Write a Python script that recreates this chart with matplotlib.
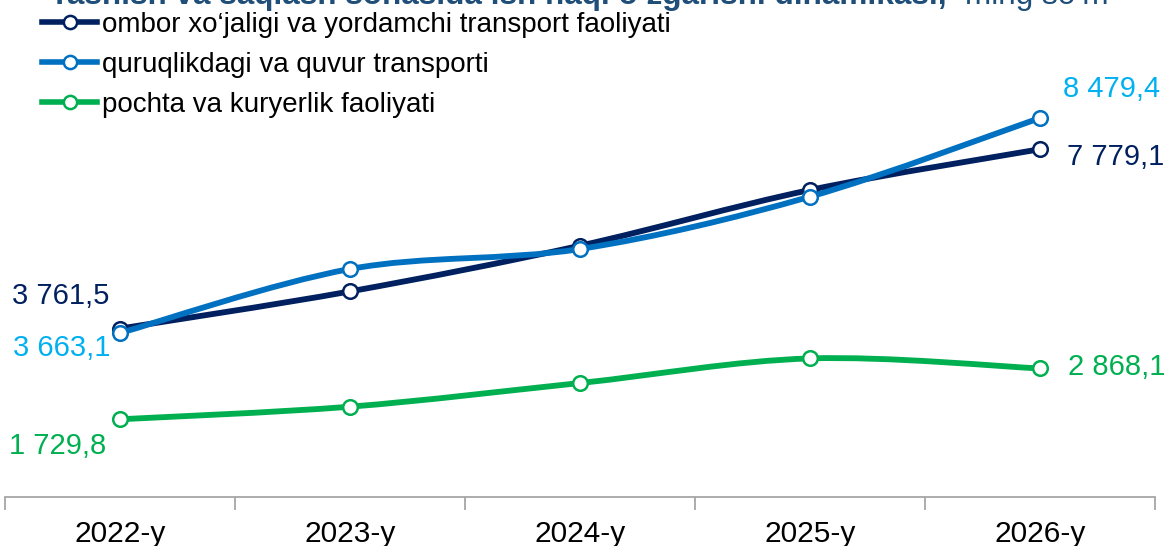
import matplotlib
matplotlib.use("Agg")
import matplotlib.pyplot as plt
from matplotlib.path import Path
from matplotlib.patches import PathPatch
from matplotlib.lines import Line2D
import numpy as np

plt.rcParams['font.family'] = ['Liberation Sans', 'DejaVu Sans']

years = ["2022-y", "2023-y", "2024-y", "2025-y", "2026-y"]
series_names = ["ombor xo\u2018jaligi va yordamchi transport faoliyati",
                "quruqlikdagi va quvur transporti",
                "pochta va kuryerlik faoliyati"]
ombor = [3761.5, 4594, 5618, 6866, 7779.1]
quruq = [3663.1, 5096, 5544, 6716, 8479.4]
pochta = [1729.8, 2012, 2542, 3093, 2868.1]

line_colors = ["#002060", "#0070C0", "#00B050"]
label_colors = ["#002060", "#00B0F0", "#00B050"]
title_bold = "Tashish va saqlash sohasida ish haqi o\u2018zgarishi dinamikasi,"
title_rest = "ming so\u2018m"

W, H = 1165, 546
DPI = 100
fig = plt.figure(figsize=(W / DPI, H / DPI), dpi=DPI)

# axes: x from px 5 to 1155, y from bottom px 496 to top 0
ax = fig.add_axes([5 / W, 1 - 496.5 / H, 1150 / W, 496.5 / H])
ax.set_xlim(-0.5, 4.5)
ax.set_ylim(0, 496.5 * 22.4)


def smooth_path(xs, ys):
    pts = np.column_stack([xs, ys]).astype(float)
    n = len(pts)
    verts = [tuple(pts[0])]
    codes = [Path.MOVETO]
    for i in range(n - 1):
        p0 = pts[i - 1] if i > 0 else pts[i]
        p1 = pts[i]
        p2 = pts[i + 1]
        p3 = pts[i + 2] if i + 2 < n else pts[i + 1]
        c1 = p1 + (p2 - p0) / 6.0
        c2 = p2 - (p3 - p1) / 6.0
        verts += [tuple(c1), tuple(c2), tuple(p2)]
        codes += [Path.CURVE4] * 3
    return Path(verts, codes)


x = np.arange(len(years))
all_series = [ombor, quruq, pochta]
for i, (vals, col) in enumerate(zip(all_series, line_colors)):
    patch = PathPatch(smooth_path(x, vals), fill=False, edgecolor=col,
                      lw=4.2, capstyle='round', joinstyle='round', zorder=2 + i)
    ax.add_patch(patch)
    ax.plot(x, vals, linestyle='none', marker='o', markersize=10.5,
            markerfacecolor='white', markeredgecolor=col, markeredgewidth=1.8,
            zorder=2.5 + i)

# data labels (offsets in pixels)
fs_lbl = 21
def lab(val, xi, dx, dy, color, ha):
    txt = f"{val:,.1f}".replace(",", " ").replace(".", ",")
    ax.annotate(txt, (xi, val), xytext=(dx, dy), textcoords='offset pixels',
                ha=ha, va='center', color=color, fontsize=fs_lbl)

lab(ombor[0], 0, -11, 33, label_colors[0], 'right')
lab(quruq[0], 0, -10, -15, label_colors[1], 'right')
lab(pochta[0], 0, -14, -27, label_colors[2], 'right')
lab(quruq[-1], 4, 23, 29, label_colors[1], 'left')
lab(ombor[-1], 4, 27, -8, label_colors[0], 'left')
lab(pochta[-1], 4, 28, 1, label_colors[2], 'left')

# axes styling
for s in ['top', 'right', 'left']:
    ax.spines[s].set_visible(False)
ax.spines['bottom'].set_color('#A6A6A6')
ax.spines['bottom'].set_linewidth(1.3)
ax.set_yticks([])
ax.set_xticks(x)
ax.set_xticklabels(years, fontsize=21.5)
ax.set_xticks(np.arange(-0.5, 5.0, 1.0), minor=True)
ax.tick_params(axis='x', which='major', length=0, pad=17)
ax.tick_params(axis='x', which='minor', length=9, color='#A6A6A6', width=1.3)

# legend
handles = [Line2D([0], [0], color=c, lw=4.0, marker='o', markersize=9.5,
                  markerfacecolor='white', markeredgecolor=c, markeredgewidth=1.8)
           for c in line_colors]
leg = fig.legend(handles, series_names, loc='upper left',
                 bbox_to_anchor=(42 / W, 1 - 12 / H), frameon=False,
                 fontsize=20, handlelength=1.98, handletextpad=0.18,
                 labelspacing=0.5, borderpad=0, borderaxespad=0)

# cut-off title
fig.text(50 / W, 1 - 4 / H, title_bold, fontsize=22.7, fontweight='bold',
         color='#1F4E79', ha='left', va='baseline')
fig.text(965 / W, 1 - 4 / H, title_rest, fontsize=22.7,
         color='#1F4E79', ha='left', va='baseline')

fig.savefig("out.png", dpi=DPI)
